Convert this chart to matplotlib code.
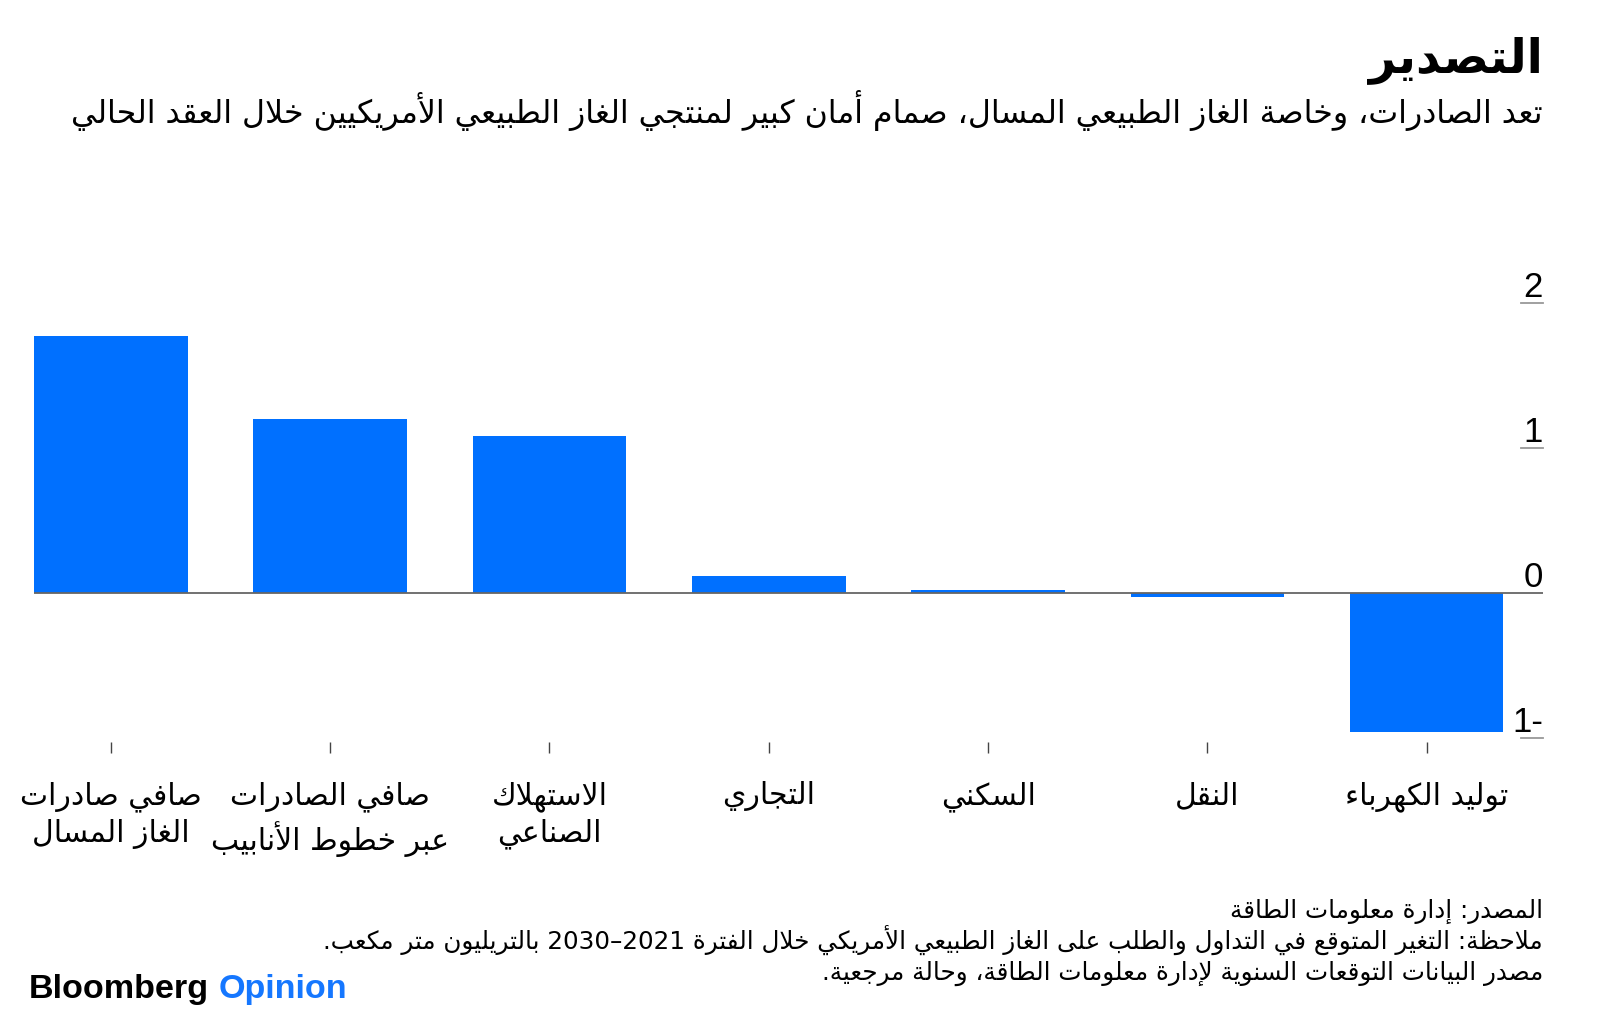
import re
import matplotlib
matplotlib.use("Agg")
import matplotlib.pyplot as plt

plt.rcParams['font.family'] = ['DejaVu Sans']

# --- data -------------------------------------------------------------------
title = "التصدير"
subtitle = ("تعد الصادرات، وخاصة الغاز الطبيعي المسال، صمام أمان كبير "
            "لمنتجي الغاز الطبيعي الأمريكيين خلال العقد الحالي")
categories = [
    "صافي صادرات\nالغاز المسال",
    "صافي الصادرات\nعبر خطوط الأنابيب",
    "الاستهلاك\nالصناعي",
    "التجاري",
    "السكني",
    "النقل",
    "توليد الكهرباء",
]
values = [1.77, 1.20, 1.08, 0.12, 0.02, -0.03, -0.96]
y_ticks = [2, 1, 0, -1]
y_ticklabels = ["2", "1", "0", "1-"]
notes = [
    "المصدر: إدارة معلومات الطاقة",
    "ملاحظة: التغير المتوقع في التداول والطلب على الغاز الطبيعي الأمريكي "
    "خلال الفترة 2021–2030 بالتريليون متر مكعب.",
    "مصدر البيانات التوقعات السنوية لإدارة معلومات الطاقة، وحالة مرجعية.",
]

BLUE = "#0070FF"

# --- small Arabic shaper ---------------------------------------------------
# matplotlib places glyphs one after the other, so the joined letter forms
# and the right-to-left order are worked out here.
# letter -> (first presentation form: isolated, final, initial, medial; count)
FORMS = {
    'ء': (0xFE80, 1), 'آ': (0xFE81, 2), 'أ': (0xFE83, 2), 'ؤ': (0xFE85, 2),
    'إ': (0xFE87, 2), 'ئ': (0xFE89, 4), 'ا': (0xFE8D, 2), 'ب': (0xFE8F, 4),
    'ة': (0xFE93, 2), 'ت': (0xFE95, 4), 'ث': (0xFE99, 4), 'ج': (0xFE9D, 4),
    'ح': (0xFEA1, 4), 'خ': (0xFEA5, 4), 'د': (0xFEA9, 2), 'ذ': (0xFEAB, 2),
    'ر': (0xFEAD, 2), 'ز': (0xFEAF, 2), 'س': (0xFEB1, 4), 'ش': (0xFEB5, 4),
    'ص': (0xFEB9, 4), 'ض': (0xFEBD, 4), 'ط': (0xFEC1, 4), 'ظ': (0xFEC5, 4),
    'ع': (0xFEC9, 4), 'غ': (0xFECD, 4), 'ف': (0xFED1, 4), 'ق': (0xFED5, 4),
    'ك': (0xFED9, 4), 'ل': (0xFEDD, 4), 'م': (0xFEE1, 4), 'ن': (0xFEE5, 4),
    'ه': (0xFEE9, 4), 'و': (0xFEED, 2), 'ى': (0xFEEF, 2), 'ي': (0xFEF1, 4),
}
LAM_ALEF = {'آ': 0xFEF5, 'أ': 0xFEF7, 'إ': 0xFEF9, 'ا': 0xFEFB}


def shape(line):
    units = []  # (first form, number of forms)
    i = 0
    while i < len(line):
        c = line[i]
        if c == 'ل' and i + 1 < len(line) and line[i + 1] in LAM_ALEF:
            units.append((LAM_ALEF[line[i + 1]], 2))
            i += 2
        elif c in FORMS:
            units.append(FORMS[c])
            i += 1
        else:
            units.append((c, 0))
            i += 1
    out = []
    for k, (base, n) in enumerate(units):
        if n == 0:
            out.append(base)
            continue
        prev_n = units[k - 1][1] if k > 0 else 0
        next_n = units[k + 1][1] if k + 1 < len(units) else 0
        join_prev = n >= 2 and prev_n == 4
        join_next = n == 4 and next_n >= 2
        idx = {(False, False): 0, (True, False): 1,
               (False, True): 2, (True, True): 3}[(join_prev, join_next)]
        out.append(chr(base + idx))
    return ''.join(out)


def rtl(text):
    lines = []
    for line in text.split('\n'):
        runs = re.findall(r'[0-9A-Za-z]+|[^0-9A-Za-z]', shape(line))
        lines.append(''.join(reversed(runs)))
    return '\n'.join(lines)


# --- figure -----------------------------------------------------------------
fig = plt.figure(figsize=(16, 10.22), dpi=100)
ax = fig.add_axes([0.02125, 0.2736, 0.9431, 0.4299])

x = list(range(len(categories)))
ax.bar(x, values, width=0.7, color=BLUE, zorder=2)
ax.axhline(0, color="#666666", lw=1.3, zorder=3)

ax.set_xlim(-0.35, 6.53)
ax.set_ylim(-1.03, 2.0)
for s in ax.spines.values():
    s.set_visible(False)

ax.set_xticks(x, labels=[rtl(c) for c in categories])
ax.tick_params(axis='x', direction='out', length=8, width=1, color="#444444",
               pad=20, labelsize=21.5)
for lab in ax.get_xticklabels():
    lab.set_multialignment('center')
    lab.set_linespacing(1.3)
ax.set_yticks([])

# right-hand value labels with short rules under them
ytr = ax.get_yaxis_transform()
for v, lab in zip(y_ticks, y_ticklabels):
    if v != 0:
        ax.plot([0.9854, 1.0], [v, v], transform=ytr, color="#999999",
                lw=1.3, clip_on=False)
    ax.annotate(lab, xy=(1.0, v), xycoords=ytr, xytext=(0, 4),
                textcoords='offset points', ha='right', va='baseline',
                fontsize=25, family=['Liberation Sans', 'DejaVu Sans'])

# titles
RIGHT = 1543 / 1600
fig.text(RIGHT, 1 - 72 / 1022, rtl(title), ha='right', va='baseline',
         fontsize=34, fontweight='bold')
fig.text(RIGHT, 1 - 123 / 1022, rtl(subtitle), ha='right', va='baseline',
         fontsize=22.8)

for k, note in enumerate(notes):
    fig.text(RIGHT, 1 - (918 + 31 * k) / 1022, rtl(note), ha='right',
             va='baseline', fontsize=17.7)

# logo
renderer = fig.canvas.get_renderer()
t1 = fig.text(29 / 1600, 1 - 998 / 1022, "Bloomberg", ha='left',
              va='baseline', fontsize=24.6, fontweight='bold',
              family=['Liberation Sans'])
bb = t1.get_window_extent(renderer)
fig.text((bb.x1 + 9) / 1600, 1 - 998 / 1022, "Opinion", ha='left',
         va='baseline', fontsize=24.6, fontweight='bold',
         family=['Liberation Sans'], color="#1577FF")

fig.savefig("out.png", dpi=100)
